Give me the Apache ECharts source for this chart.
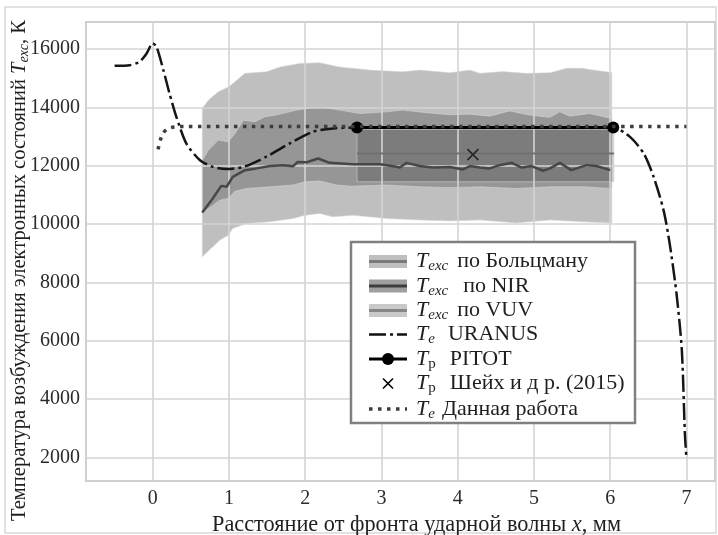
<!DOCTYPE html>
<html>
<head>
<meta charset="utf-8">
<script src="https://cdn.jsdelivr.net/npm/echarts@6/dist/echarts.min.js"></script>
<style>
  html, body { margin: 0; padding: 0; background: #fff; }
  #chart { width: 718px; height: 535px; }
</style>
</head>
<body>
<div id="chart"></div>
<script>
// Axis ticks
const xTicks = [0, 1, 2, 3, 4, 5, 6, 7];
const yTicks = [2000, 4000, 6000, 8000, 10000, 12000, 14000, 16000];

// T_exc from NIR: central curve
const nirX = [0.65, 0.78, 0.90, 0.97, 1.05, 1.21, 1.36, 1.54, 1.71, 1.84, 1.90, 2.02, 2.17, 2.32, 2.63, 2.98, 3.20, 3.24, 3.33, 3.50, 3.68, 3.90, 4.07, 4.16, 4.29, 4.42, 4.55, 4.71, 4.84, 4.97, 5.12, 5.21, 5.34, 5.49, 5.69, 5.82, 6.00];
const nirY = [10400, 10850, 11310, 11280, 11620, 11850, 11910, 11990, 12020, 11980, 12130, 12120, 12250, 12100, 12055, 12055, 11965, 11940, 12100, 11990, 11940, 11960, 11875, 11990, 11940, 11910, 12020, 12100, 11940, 11990, 11830, 11910, 12100, 11850, 12020, 11990, 11850];

// T_exc from NIR: uncertainty band
const nirHiX = [0.65, 0.73, 0.86, 0.99, 1.08, 1.19, 1.34, 1.47, 1.62, 1.89, 2.19, 2.45, 2.72, 3.07, 3.28, 3.59, 3.90, 4.16, 4.42, 4.68, 4.94, 5.21, 5.34, 5.47, 5.73, 6.02];
const nirHiY = [12190, 12530, 12880, 12820, 13110, 13560, 13510, 13680, 13740, 13910, 14020, 13910, 13790, 13850, 13910, 13820, 13750, 13770, 13700, 13880, 13740, 13660, 13850, 13700, 13790, 13620];
const nirLoX = [0.65, 0.88, 0.99, 1.08, 1.23, 1.54, 1.84, 2.00, 2.19, 2.41, 2.60, 3.07, 3.50, 3.90, 4.29, 4.77, 5.21, 5.64, 6.02];
const nirLoY = [10380, 10820, 10880, 11130, 11220, 11280, 11340, 11450, 11480, 11340, 11300, 11340, 11280, 11250, 11280, 11220, 11280, 11280, 11220];

// T_exc from VUV: uncertainty band
const vuvHiX = [0.65, 0.73, 0.86, 1.00, 1.21, 1.49, 1.67, 1.93, 2.19, 2.45, 2.85, 3.28, 3.50, 3.90, 4.16, 4.29, 4.59, 4.89, 5.21, 5.43, 5.64, 5.73, 6.02];
const vuvHiY = [13970, 14250, 14540, 14710, 15170, 15220, 15390, 15510, 15530, 15390, 15280, 15220, 15280, 15190, 15280, 15170, 15230, 15170, 15190, 15340, 15340, 15300, 15200];
const vuvLoX = [0.65, 0.88, 0.99, 1.05, 1.23, 1.54, 1.84, 2.00, 2.19, 2.36, 2.63, 3.07, 3.50, 3.90, 4.29, 4.77, 5.21, 5.64, 6.02];
const vuvLoY = [8880, 9450, 9620, 9850, 10020, 10080, 10190, 10300, 10365, 10250, 10300, 10190, 10140, 10110, 10140, 10040, 10140, 10080, 10040];

// T_exc from the Boltzmann plot
const boltzX = [2.68, 6.05];
const boltzY = [12420, 12420];
const boltzHi = [13250, 13250];
const boltzLo = [11450, 11450];

// T_e from URANUS
const uranusX = [-0.50, -0.30, -0.17, -0.08, 0.00, 0.05, 0.14, 0.22, 0.31, 0.44, 0.62, 0.79, 0.97, 1.19, 1.49, 1.80, 2.10, 2.37, 2.63, 6.04, 6.26, 6.44, 6.57, 6.70, 6.78, 6.87, 6.94, 6.98, 7.00];
const uranusY = [15430, 15450, 15570, 15850, 16200, 16080, 15280, 14480, 13680, 12770, 12190, 11960, 11885, 11960, 12310, 12770, 13165, 13280, 13310, 13310, 12990, 12420, 11620, 10480, 9340, 7620, 5680, 2820, 1980];

// T_p from PITOT
const pitotX = [2.68, 6.04];
const pitotY = [13310, 13310];

// T_p, Sheikh et al. (2015)
const sheikhX = [4.2];
const sheikhY = [12380];

// T_e, this work
const workX = [0.07, 0.10, 0.14, 0.20, 0.28, 0.40, 7.00];
const workY = [12560, 12880, 13130, 13270, 13330, 13350, 13350];

const SERIF = '"Liberation Serif", "DejaVu Serif", serif';
const TXT = '#1f1f1f';

const pairs = (xs, ys) => xs.map((x, i) => [x, ys[i]]);

// filled band between an upper and a lower curve
function band(name, hx, hy, lx, ly, fill, z) {
  return {
    type: 'custom', name: name, z: z, silent: true, clip: true,
    data: [[hx[0], hy[0]]],
    renderItem: function (params, api) {
      const pts = [];
      for (let i = 0; i < hx.length; i++) pts.push(api.coord([hx[i], hy[i]]));
      for (let i = lx.length - 1; i >= 0; i--) pts.push(api.coord([lx[i], ly[i]]));
      return {
        type: 'polygon',
        shape: { points: pts },
        style: { fill: fill, stroke: 'rgba(215,215,215,0.55)', lineWidth: 1 }
      };
    }
  };
}

const chart = echarts.init(document.getElementById('chart'), null, { renderer: 'canvas' });

const gridLines = xTicks.map(v => ({ xAxis: v })).concat(yTicks.map(v => ({ yAxis: v })));

// legend built from plain shapes, kept above the plot
const LZ = 100;
const rowsY = [261.5, 286, 310.5, 334.5, 359, 383.5, 409];
const ix0 = 369, ix1 = 407, icx = 388;
const LFS = 22;
function legendRich(gap) {
  return {
    i: { fontFamily: SERIF, fontStyle: 'italic', fontSize: LFS, fill: TXT },
    s: { fontFamily: SERIF, fontStyle: 'italic', fontSize: 15, fill: TXT, padding: [10, 0, 0, 0] },
    r: { fontFamily: SERIF, fontSize: 15, fill: TXT, padding: [10, 0, 0, 0] },
    t: { fontFamily: SERIF, fontSize: LFS, fill: TXT, padding: [0, 0, 0, gap] }
  };
}
const legendRows = [
  { text: '{i|T}{s|exc}{t|по Больцману}', gap: 9 },
  { text: '{i|T}{s|exc}{t|по NIR}', gap: 15 },
  { text: '{i|T}{s|exc}{t|по VUV}', gap: 9 },
  { text: '{i|T}{s|e}{t|URANUS}', gap: 13 },
  { text: '{i|T}{r|p}{t|PITOT}', gap: 14 },
  { text: '{i|T}{r|p}{t|Шейх и д р. (2015)}', gap: 14 },
  { text: '{i|T}{s|e}{t|Данная работа}', gap: 7 }
];
const legendChildren = [{
  type: 'rect', z: LZ, shape: { x: 351, y: 242, width: 284, height: 181 },
  style: { fill: '#fff', stroke: '#808080', lineWidth: 2.5 }
}];
function hline(y, stroke, w, dash) {
  return { type: 'line', z: LZ + 1, shape: { x1: ix0, y1: y, x2: ix1, y2: y },
    style: { stroke: stroke, lineWidth: w, lineDash: dash || null, lineCap: 'butt' } };
}
function bandIcon(y, fill) {
  return { type: 'rect', z: LZ + 1, shape: { x: ix0, y: y - 6.5, width: ix1 - ix0, height: 13 }, style: { fill: fill } };
}
legendChildren.push(bandIcon(rowsY[0], '#bebebe'), hline(rowsY[0], '#7a7a7a', 3));
legendChildren.push(bandIcon(rowsY[1], '#9f9f9f'), hline(rowsY[1], '#3f3f3f', 3));
legendChildren.push(bandIcon(rowsY[2], '#c9c9c9'), hline(rowsY[2], '#878787', 3));
legendChildren.push(hline(rowsY[3], '#111', 2.5, [17, 4, 3, 4]));
legendChildren.push(hline(rowsY[4], '#000', 3));
legendChildren.push({ type: 'circle', z: LZ + 2, shape: { cx: icx, cy: rowsY[4], r: 6 }, style: { fill: '#000' } });
legendChildren.push({ type: 'polyline', z: LZ + 2, shape: { points: [[icx - 5, rowsY[5] - 5], [icx + 5, rowsY[5] + 5]] }, style: { stroke: '#000', lineWidth: 1.6, fill: null } });
legendChildren.push({ type: 'polyline', z: LZ + 2, shape: { points: [[icx + 5, rowsY[5] - 5], [icx - 5, rowsY[5] + 5]] }, style: { stroke: '#000', lineWidth: 1.6, fill: null } });
legendChildren.push(hline(rowsY[6], '#3d3d3d', 3.5, [3.5, 5.5]));
legendRows.forEach((row, k) => {
  legendChildren.push({
    type: 'text', z: LZ + 2, x: 416, y: rowsY[k],
    style: { text: row.text, rich: legendRich(row.gap), fontFamily: SERIF, fontSize: LFS, fill: TXT, verticalAlign: 'middle', align: 'left' }
  });
});

const option = {
  animation: false,
  backgroundColor: '#fff',
  grid: {
    left: 86, top: 22, width: 629, height: 459, outerBoundsMode: 'none', containLabel: false,
    show: true, borderColor: '#cfcfcf', borderWidth: 2, backgroundColor: '#fff'
  },
  xAxis: {
    type: 'value', min: -0.875, max: 7.375,
    axisLine: { show: false }, axisTick: { show: false, customValues: xTicks },
    splitLine: { show: false },
    axisLabel: { customValues: xTicks, color: '#2b2b2b', fontFamily: SERIF, fontSize: 20, margin: 8, formatter: v => String(v) },
    name: 'Расстояние от фронта ударной волны {i|x}, мм',
    nameLocation: 'middle', nameGap: 31,
    nameTextStyle: {
      color: TXT, fontFamily: SERIF, fontSize: 22.3, padding: [0, 0, 0, 32],
      rich: { i: { fontFamily: SERIF, fontStyle: 'italic', fontSize: 22.3, color: TXT } }
    }
  },
  yAxis: {
    type: 'value', min: 1190, max: 16930,
    axisLine: { show: false }, axisTick: { show: false, customValues: yTicks },
    splitLine: { show: false },
    axisLabel: { customValues: yTicks, color: '#2b2b2b', fontFamily: SERIF, fontSize: 20, margin: 6, formatter: v => String(v) },
    name: 'Температура возбуждения электронных состояний {i|T}{s|exc}, К',
    nameLocation: 'middle', nameGap: 55, nameMoveOverlap: false,
    nameTextStyle: {
      color: TXT, fontFamily: SERIF, fontSize: 20.5, padding: [0, 38, 0, 0],
      rich: {
        i: { fontFamily: SERIF, fontStyle: 'italic', fontSize: 20.5, color: TXT },
        s: { fontFamily: SERIF, fontStyle: 'italic', fontSize: 14, color: TXT, padding: [8, 0, 0, 0] }
      }
    }
  },
  graphic: [
    { type: 'rect', z: -10, shape: { x: 5, y: 7, width: 711, height: 526 }, style: { fill: null, stroke: '#d9d9d9', lineWidth: 1.5 } },
    { type: 'group', z: LZ, children: legendChildren }
  ],
  series: [
    {
      type: 'line', name: 'grid', data: [], z: 1, silent: true,
      markLine: {
        silent: true, symbol: 'none', animation: false,
        label: { show: false },
        lineStyle: { color: '#d4d4d4', width: 1.6, type: 'solid' },
        emphasis: { disabled: true },
        data: gridLines
      }
    },
    band('VUV', vuvHiX, vuvHiY, vuvLoX, vuvLoY, 'rgba(0,0,0,0.25)', 2),
    band('NIR', nirHiX, nirHiY, nirLoX, nirLoY, 'rgba(0,0,0,0.21)', 3),
    band('Больцман', boltzX, boltzHi, boltzX, boltzLo, 'rgba(0,0,0,0.17)', 4),
    {
      type: 'line', name: 'Больцман линия', z: 5, data: pairs(boltzX, boltzY),
      symbol: 'none', lineStyle: { color: '#707070', width: 2 }, silent: true
    },
    {
      type: 'line', name: 'NIR линия', z: 6, data: pairs(nirX, nirY),
      symbol: 'none', lineStyle: { color: '#474747', width: 2.5 }, silent: true
    },
    {
      type: 'line', name: 'URANUS', z: 7, data: pairs(uranusX, uranusY),
      symbol: 'none', smooth: 0.25,
      lineStyle: { color: '#161616', width: 2.5, type: [17, 4, 3, 4], cap: 'butt' }, silent: true
    },
    {
      type: 'line', name: 'PITOT', z: 8, data: pairs(pitotX, pitotY),
      symbol: 'circle', symbolSize: 12, showSymbol: true,
      itemStyle: { color: '#000' }, lineStyle: { color: '#000', width: 3 }, silent: true
    },
    {
      type: 'line', name: 'Данная работа', z: 9, data: pairs(workX, workY),
      symbol: 'none', smooth: 0.3,
      lineStyle: { color: '#3d3d3d', width: 3.5, type: [3.5, 5.5], cap: 'butt' }, silent: true
    },
    {
      type: 'scatter', name: 'Шейх', z: 10, data: pairs(sheikhX, sheikhY),
      symbol: 'path://M0,0L10,10M10,0L0,10', symbolSize: 11,
      itemStyle: { color: 'none', borderColor: '#111', borderWidth: 1.6 }, silent: true
    }
  ]
};
chart.setOption(option);
</script>
</body>
</html>
